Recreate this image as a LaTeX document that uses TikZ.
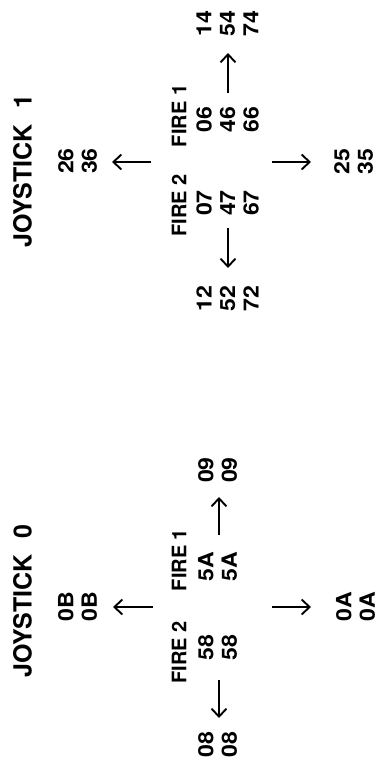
\documentclass[tikz,border=0pt]{standalone}
\usepackage{fontspec}
\setmainfont{TeX Gyre Heros}
\newfontfamily\numfont[FakeStretch=1.1]{TeX Gyre Heros}
\usetikzlibrary{arrows.meta}
\tikzset{
  title/.style={rotate=90,inner sep=0pt,font=\fontsize{25}{27}\selectfont\bfseries},
  fire/.style={rotate=90,inner sep=0pt,font=\fontsize{20}{22}\selectfont\bfseries},
  nums/.style={rotate=90,inner sep=0pt,align=center,font=\numfont\fontsize{21}{23.5}\selectfont\bfseries},
  arr/.style={line width=1.9pt,-{Straight Barb[length=8pt,width=15pt]}}
}
\begin{document}
\begin{tikzpicture}[x=1pt,y=-1pt]
\useasboundingbox[fill=white] (0,0) rectangle (378,773);
% ---------- JOYSTICK 1 ----------
\node[title] (t1) at (22.5,171) {JOYSTICK\hspace{16pt}1};
\node[nums] (n26) at (77.5,161) {26\\36};
\node[fire] (f11) at (179,116) {FIRE 1};
\node[nums] (n06) at (227.5,120) {06\\46\\66};
\node[nums] (n14) at (227.5,23.5) {14\\54\\74};
\node[nums] (n25) at (353.5,161.5) {25\\35};
\node[fire] (f12) at (179,205.5) {FIRE 2};
\node[nums] (n07) at (227.5,203) {07\\47\\67};
\node[nums] (n12) at (227.5,298.5) {12\\52\\72};
\coordinate (u1a) at (228,93);  \coordinate (u1b) at (228,53);
\coordinate (l1a) at (151,162); \coordinate (l1b) at (112,162);
\coordinate (r1a) at (272,162); \coordinate (r1b) at (311,162);
\coordinate (d1a) at (228,228); \coordinate (d1b) at (228,268);
\draw[arr] (u1a) -- (u1b);
\draw[arr] (l1a) -- (l1b);
\draw[arr] (r1a) -- (r1b);
\draw[arr] (d1a) -- (d1b);
% ---------- JOYSTICK 0 ----------
\node[title] (t0) at (22.5,601) {JOYSTICK\hspace{16pt}0};
\node[nums] (n0B) at (77.5,607) {0B\\0B};
\node[fire] (f01) at (179,560) {FIRE 1};
\node[nums] (n5A) at (217.5,567) {5A\\5A};
\node[nums] (n09) at (217.5,470) {09\\09};
\node[fire] (f02) at (179,652.5) {FIRE 2};
\node[nums] (n58) at (217.5,647.5) {58\\58};
\node[nums] (n0A) at (355.5,607) {0A\\0A};
\node[nums] (n08) at (217.5,744.5) {08\\08};
\coordinate (u0a) at (219,535); \coordinate (u0b) at (219,497);
\coordinate (l0a) at (153,607); \coordinate (l0b) at (113,607);
\coordinate (r0a) at (272,607); \coordinate (r0b) at (311,607);
\coordinate (d0a) at (219,680); \coordinate (d0b) at (219,718);
\draw[arr] (u0a) -- (u0b);
\draw[arr] (l0a) -- (l0b);
\draw[arr] (r0a) -- (r0b);
\draw[arr] (d0a) -- (d0b);
\end{tikzpicture}
\end{document}
